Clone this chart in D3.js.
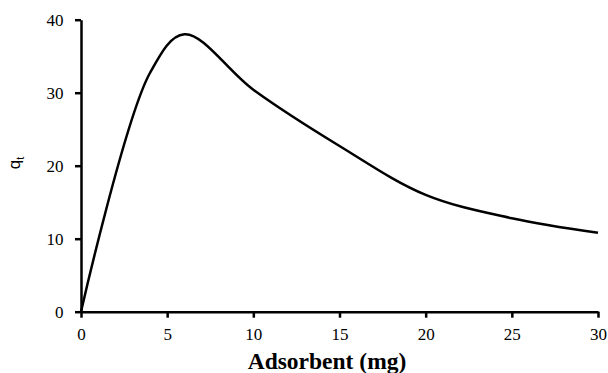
<!DOCTYPE html>
<html>
<head>
<meta charset="utf-8">
<script src="https://cdn.jsdelivr.net/npm/d3@7"></script>
<style>
  body { margin: 0; background: #fff; }
  svg { display: block; }
  .tick text { font-family: "Liberation Serif", serif; font-size: 17px; fill: #000; }
</style>
</head>
<body>
<div id="chart"></div>
<script>
// values
const adsorbent = [0, 4, 6, 10, 15, 20, 25, 30];
const qt = [0, 32.7, 38.0, 30.4, 22.7, 16.0, 12.8, 10.8];
const xTicks = [0, 5, 10, 15, 20, 25, 30];
const yTicks = [0, 10, 20, 30, 40];

const width = 608, height = 373;
const margin = { top: 19.7, right: 10, bottom: 61.3, left: 81 };

const svg = d3.select("#chart")
  .append("svg")
  .attr("width", width)
  .attr("height", height);

const x = d3.scaleLinear().domain([0, 30]).range([margin.left, width - margin.right]);
const y = d3.scaleLinear().domain([0, 40]).range([height - margin.bottom, margin.top]);

const points = adsorbent.map((d, i) => [d, qt[i]]);

// x axis
const gx = svg.append("g")
  .attr("transform", `translate(0,${y(0)})`)
  .call(d3.axisBottom(x).tickValues(xTicks).tickSize(6).tickPadding(10).tickSizeOuter(0));
gx.select(".domain").attr("stroke", "#000").attr("stroke-width", 2.5);
gx.selectAll(".tick line").attr("stroke", "#000").attr("stroke-width", 2.5);

// y axis
const gy = svg.append("g")
  .attr("transform", `translate(${x(0)},0)`)
  .call(d3.axisLeft(y).tickValues(yTicks).tickSize(6).tickPadding(11.5).tickSizeOuter(0));
gy.select(".domain").attr("stroke", "#000").attr("stroke-width", 2.5);
gy.selectAll(".tick line").attr("stroke", "#000").attr("stroke-width", 2.5);

// curve (centripetal catmull-rom, close to Excel smoothing)
svg.append("path")
  .datum(points)
  .attr("fill", "none")
  .attr("stroke", "#000")
  .attr("stroke-width", 2.5)
  .attr("stroke-linejoin", "round")
  .attr("d", d3.line()
    .x(d => x(d[0]))
    .y(d => y(d[1]))
    .curve(d3.curveCatmullRom.alpha(0.5)));

// axis titles
svg.append("text")
  .attr("x", 327)
  .attr("y", 369)
  .attr("text-anchor", "middle")
  .style("font-family", "Liberation Serif, serif")
  .style("font-weight", "bold")
  .style("font-size", "23.5px")
  .text("Adsorbent (mg)");

const yl = svg.append("text")
  .attr("transform", "translate(20,163) rotate(-90)")
  .attr("text-anchor", "middle")
  .style("font-family", "Liberation Sans, sans-serif")
  .style("font-size", "17px");
yl.append("tspan").text("q");
yl.append("tspan").attr("dy", 4).style("font-size", "11px").text("t");
</script>
</body>
</html>
